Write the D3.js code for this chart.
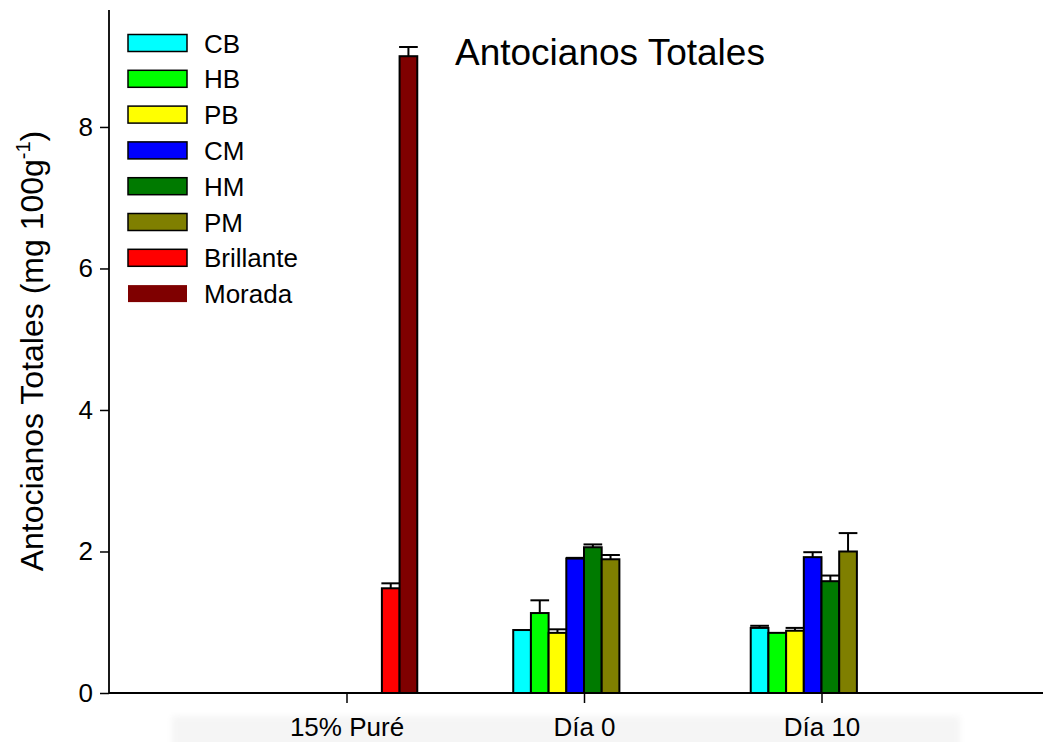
<!DOCTYPE html>
<html>
<head>
<meta charset="utf-8">
<script src="https://cdn.jsdelivr.net/npm/d3@7"></script>
<style>
  html, body { margin: 0; padding: 0; background: #fff; }
  svg { display: block; font-family: "Liberation Sans", Arial, sans-serif; }
</style>
</head>
<body>
<svg id="chart" width="1043" height="742"></svg>
<script>
// Groups along the x axis
const groups = ["15% Puré", "Día 0", "Día 10"];
// Series (legend order) and their fills
const series = ["CB", "HB", "PB", "CM", "HM", "PM", "Brillante", "Morada"];
const colors = ["#00FFFF", "#00FF00", "#FFFF00", "#0000FF", "#007A00", "#7F7F00", "#FF0000", "#7F0000"];
// Mean values per series for each group (null = not measured)
const valuesPure  = [null, null, null, null, null, null, 1.48, 9.00];
const valuesDia0  = [0.89, 1.13, 0.85, 1.90, 2.06, 1.89, null, null];
const valuesDia10 = [0.92, 0.85, 0.88, 1.92, 1.58, 2.00, null, null];
// Upper error (standard deviation) per series for each group
const errPure  = [null, null, null, null, null, null, 0.07, 0.13];
const errDia0  = [0.0, 0.18, 0.05, 0.01, 0.04, 0.06, null, null];
const errDia10 = [0.03, 0.0, 0.04, 0.07, 0.08, 0.26, null, null];
const yTicks = [0, 2, 4, 6, 8];

const values = [valuesPure, valuesDia0, valuesDia10];
const errors = [errPure, errDia0, errDia10];

const FONT = "'Liberation Sans', Arial, sans-serif";
const svg = d3.select("#chart");
const plotLeft = 109, plotBottom = 693, plotTop = 10;

// Groups sit at positions 1..3 on a 0..4 axis that runs off the right edge
const x = d3.scaleLinear().domain([0, 4]).range([plotLeft, plotLeft + 4 * 237.5]);
const y = d3.scaleLinear().domain([0, 9.653]).range([plotBottom, plotTop]);
const groupWidth = 0.596;
const bw = groupWidth / series.length;

// Faint band behind the category labels
const defs = svg.append("defs");
defs.append("filter").attr("id", "soft")
  .append("feGaussianBlur").attr("stdDeviation", 3);
svg.append("rect")
  .attr("x", 172).attr("y", 716).attr("width", 788).attr("height", 34)
  .attr("fill", "#f5f5f5").attr("filter", "url(#soft)");

// Flatten data for drawing
const bars = [];
groups.forEach((g, gi) => {
  series.forEach((s, si) => {
    const v = values[gi][si];
    if (v === null) return;
    bars.push({ gi, si, v, e: errors[gi][si] });
  });
});
const groupPos = gi => gi + 1;
const barX = d => x(groupPos(d.gi) - groupWidth / 2 + d.si * bw);
const barW = x(bw) - x(0);

// Error bars (upper only)
const eb = svg.append("g").attr("stroke", "#000").attr("stroke-width", 2);
bars.filter(d => d.e > 0).forEach(d => {
  const cx = barX(d) + barW / 2;
  eb.append("line").attr("x1", cx).attr("x2", cx)
    .attr("y1", y(d.v)).attr("y2", y(d.v + d.e));
  eb.append("line").attr("x1", cx - barW / 2 - 0.5).attr("x2", cx + barW / 2 + 0.5)
    .attr("y1", y(d.v + d.e)).attr("y2", y(d.v + d.e));
});

// Bars
svg.append("g").selectAll("rect").data(bars).join("rect")
  .attr("x", barX)
  .attr("y", d => y(d.v))
  .attr("width", barW)
  .attr("height", d => y(0) - y(d.v))
  .attr("fill", d => colors[d.si])
  .attr("stroke", "#000")
  .attr("stroke-width", 2);

// Y axis
const yAxis = svg.append("g").attr("transform", `translate(${plotLeft},0)`)
  .call(d3.axisLeft(y).tickValues(yTicks).tickSize(9).tickPadding(7).tickFormat(d3.format("d")));
yAxis.attr("font-size", null).attr("font-family", null);
yAxis.select(".domain").attr("d", `M0,${plotTop}V${plotBottom}`).attr("stroke-width", 1.8);
yAxis.selectAll(".tick line").attr("stroke-width", 1.5);
yAxis.selectAll("text").attr("fill", "#000")
  .style("font-size", "26px").style("font-family", FONT);

// X axis
const xAxis = svg.append("g").attr("transform", `translate(0,${plotBottom})`)
  .call(d3.axisBottom(x).tickValues([1, 2, 3]).tickSize(10).tickPadding(15)
    .tickFormat(d => groups[d - 1]));
xAxis.attr("font-size", null).attr("font-family", null);
xAxis.select(".domain").attr("d", `M${plotLeft},0H1043`).attr("stroke-width", 1.8);
xAxis.selectAll(".tick line").attr("stroke-width", 1.5);
xAxis.selectAll("text").attr("fill", "#000")
  .style("font-size", "26px").style("font-family", FONT);

// Y axis title with superscript unit
const yt = svg.append("text")
  .attr("transform", `translate(43,351) rotate(-90)`)
  .attr("text-anchor", "middle")
  .style("font-size", "32px").style("font-family", FONT).attr("fill", "#000");
yt.append("tspan").text("Antocianos Totales (mg 100g");
yt.append("tspan").attr("dy", -13).style("font-size", "20px").text("-1");
yt.append("tspan").attr("dy", 13).text(")");

// Chart title
svg.append("text").attr("x", 455).attr("y", 65)
  .style("font-size", "37px").style("font-family", FONT).attr("fill", "#000")
  .text("Antocianos Totales");

// Legend
const lg = svg.append("g");
series.forEach((s, i) => {
  const cy = 43 + i * 35.8;
  lg.append("rect")
    .attr("x", 128).attr("y", cy - 8.5).attr("width", 59).attr("height", 17)
    .attr("fill", colors[i])
    .attr("stroke", s === "Morada" ? "none" : "#000")
    .attr("stroke-width", 1.5);
  lg.append("text").attr("x", 204).attr("y", cy + 9.5)
    .style("font-size", "26px").style("font-family", FONT).attr("fill", "#000").text(s);
});
</script>
</body>
</html>
